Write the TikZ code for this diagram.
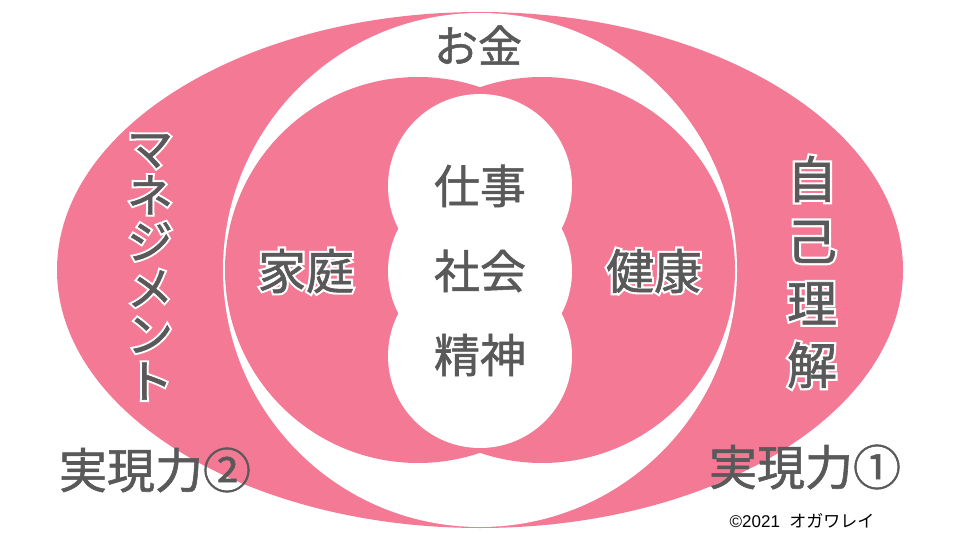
\documentclass[tikz,border=0pt]{standalone}
\usepackage{fontspec}
\newfontfamily\jp{Noto Sans CJK JP}[FakeBold=1.2]
\newfontfamily\jpo{Noto Sans CJK JP}[FakeBold=10]
\newfontfamily\jpr{Noto Sans CJK JP}
\newfontfamily\lsans{Liberation Sans}
\usetikzlibrary{calc}
\definecolor{pinkc}{RGB}{244,121,148}
\definecolor{txtgray}{RGB}{89,89,89}
\tikzset{
  lbl/.style n args={2}{text=txtgray, inner sep=0pt, align=center, font=\jp\fontsize{#1}{#2}\selectfont},
  halo/.style n args={2}{text=white, inner sep=0pt, align=center, font=\jpo\fontsize{#1}{#2}\selectfont},
  pinkfill/.style={fill=pinkc, draw=none},
  whitefill/.style={fill=white, draw=none}
}
\newcommand\olbl[5]{%
  \node[halo={#3}{#4}] at (#2) {#5};
  \node[lbl={#3}{#4}] (#1) at (#2) {#5};
}
\begin{document}
\begin{tikzpicture}[x=1pt,y=-1pt]
\useasboundingbox (0,0) rectangle (960,540);
% outer pink ellipse
\path[pinkfill] (480,270) ellipse [x radius=423, y radius=258];
% white circle
\path[whitefill] (480,270) circle [radius=257];
% two pink circles
\path[pinkfill] (418,270) circle [radius=193];
\path[pinkfill] (542,270) circle [radius=193];
% central white cloud of three circles
\path[whitefill] (480,186) circle [radius=92];
\path[whitefill] (480,271) circle [radius=92];
\path[whitefill] (480,356) circle [radius=92];
% plain labels
\node[lbl={44}{44}] (okane) at (478,45) {お金};
\node[lbl={46}{46}] (shigoto) at (480,186) {仕事};
\node[lbl={46}{46}] (shakai) at (480,271) {社会};
\node[lbl={46}{46}] (seishin) at (480,355) {精神};
\node[lbl={48}{48}] (jitsu2) at (155,470) {実現力②};
\node[lbl={48}{48}] (jitsu1) at (805,467) {実現力①};
% outlined labels
\olbl{katei}{306,271}{48}{48}{家庭}
\olbl{kenko}{654,271}{48}{48}{健康}
\olbl{mgmt}{150,267}{46}{46.5}{マ\\ネ\\ジ\\メ\\ン\\ト}
\olbl{jiko}{812,272}{50}{62}{自\\己\\理\\解}
% copyright
\node[inner sep=0pt, text=black] (copy) at (802,521) {\lsans\fontsize{17}{17}\selectfont ©2021\ \ \jpr オガワレイ};
\end{tikzpicture}
\end{document}
